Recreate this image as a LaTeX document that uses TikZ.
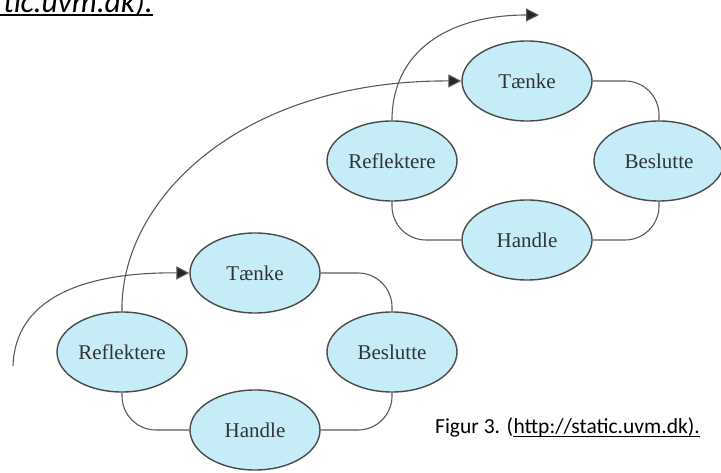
\documentclass[tikz,border=0pt]{standalone}
\usepackage{fontspec}
\setmainfont{Liberation Serif}
\newfontfamily\capfont{Carlito}
\usetikzlibrary{arrows.meta}
\definecolor{cyclefill}{HTML}{C6ECF8}
\definecolor{cycleline}{HTML}{4A4A4A}
\definecolor{linkgray}{HTML}{5A5A5A}
\tikzset{
  stage/.style={ellipse, draw=cycleline, line width=1.4pt, fill=cyclefill,
    minimum width=130pt, minimum height=80pt, inner sep=0pt,
    text=black!80, font=\fontsize{21}{24}\selectfont},
  link/.style={draw=linkgray, line width=1.1pt, rounded corners=34pt},
  arc/.style={draw=linkgray, line width=1.1pt,
    -{Triangle[length=13pt,width=13pt,fill=black!85]}},
  captxt/.style={inner sep=0pt, font=\capfont\fontsize{21.5}{24}\selectfont},
}
\usetikzlibrary{shapes.geometric}
\begin{document}
\begin{tikzpicture}[x=1pt,y=-1pt]
\useasboundingbox (0,0) rectangle (721,473);
\begin{scope}
\clip (0,0) rectangle (721,473);
% lower cycle
\node[stage] (T1) at (255,273) {Tænke};
\node[stage] (R1) at (122,352) {Reflektere};
\node[stage] (B1) at (392,352) {Beslutte};
\node[stage] (H1) at (255,430) {Handle};
% upper cycle
\node[stage] (T2) at (527,81) {Tænke};
\node[stage] (R2) at (392,161) {Reflektere};
\node[stage] (B2) at (659,161) {Beslutte};
\node[stage] (H2) at (527,240) {Handle};
% cycle links
\draw[link] (T1.east) -| (B1.north);
\draw[link] (B1.south) |- (H1.east);
\draw[link] (H1.west) -| (R1.south);
\draw[link] (T2.east) -| (B2.north);
\draw[link] (B2.south) |- (H2.east);
\draw[link] (H2.west) -| (R2.south);
% arcs
\coordinate (s1) at (13,366);
\draw[arc] (s1) .. controls (15,300) and (80,272) .. (T1.west);
\draw[arc] (R1.north) .. controls (120,200) and (240,80) .. (T2.west);
\coordinate (e2) at (539,15);
\draw[arc] (R2.north) .. controls (392,50) and (450,15) .. (e2);
% captions
\node[captxt, anchor=base west] (cp) at (435,433) {Figur 3. (};
\node[captxt, anchor=base west] (cu) at (cp.base east) {http://static.uvm.dk).};
\draw[line width=1.6pt] ([yshift=-3.5pt]cu.base west) -- ([yshift=-3.5pt]cu.base east);
\node[captxt, anchor=base east, font=\capfont\itshape\fontsize{31.5}{33}\selectfont] (tp) at (153,12.5) {tic.uvm.dk).};
\draw[line width=2pt] (0,15) -- ([yshift=-2.5pt]tp.base east);
\end{scope}
\end{tikzpicture}
\end{document}
